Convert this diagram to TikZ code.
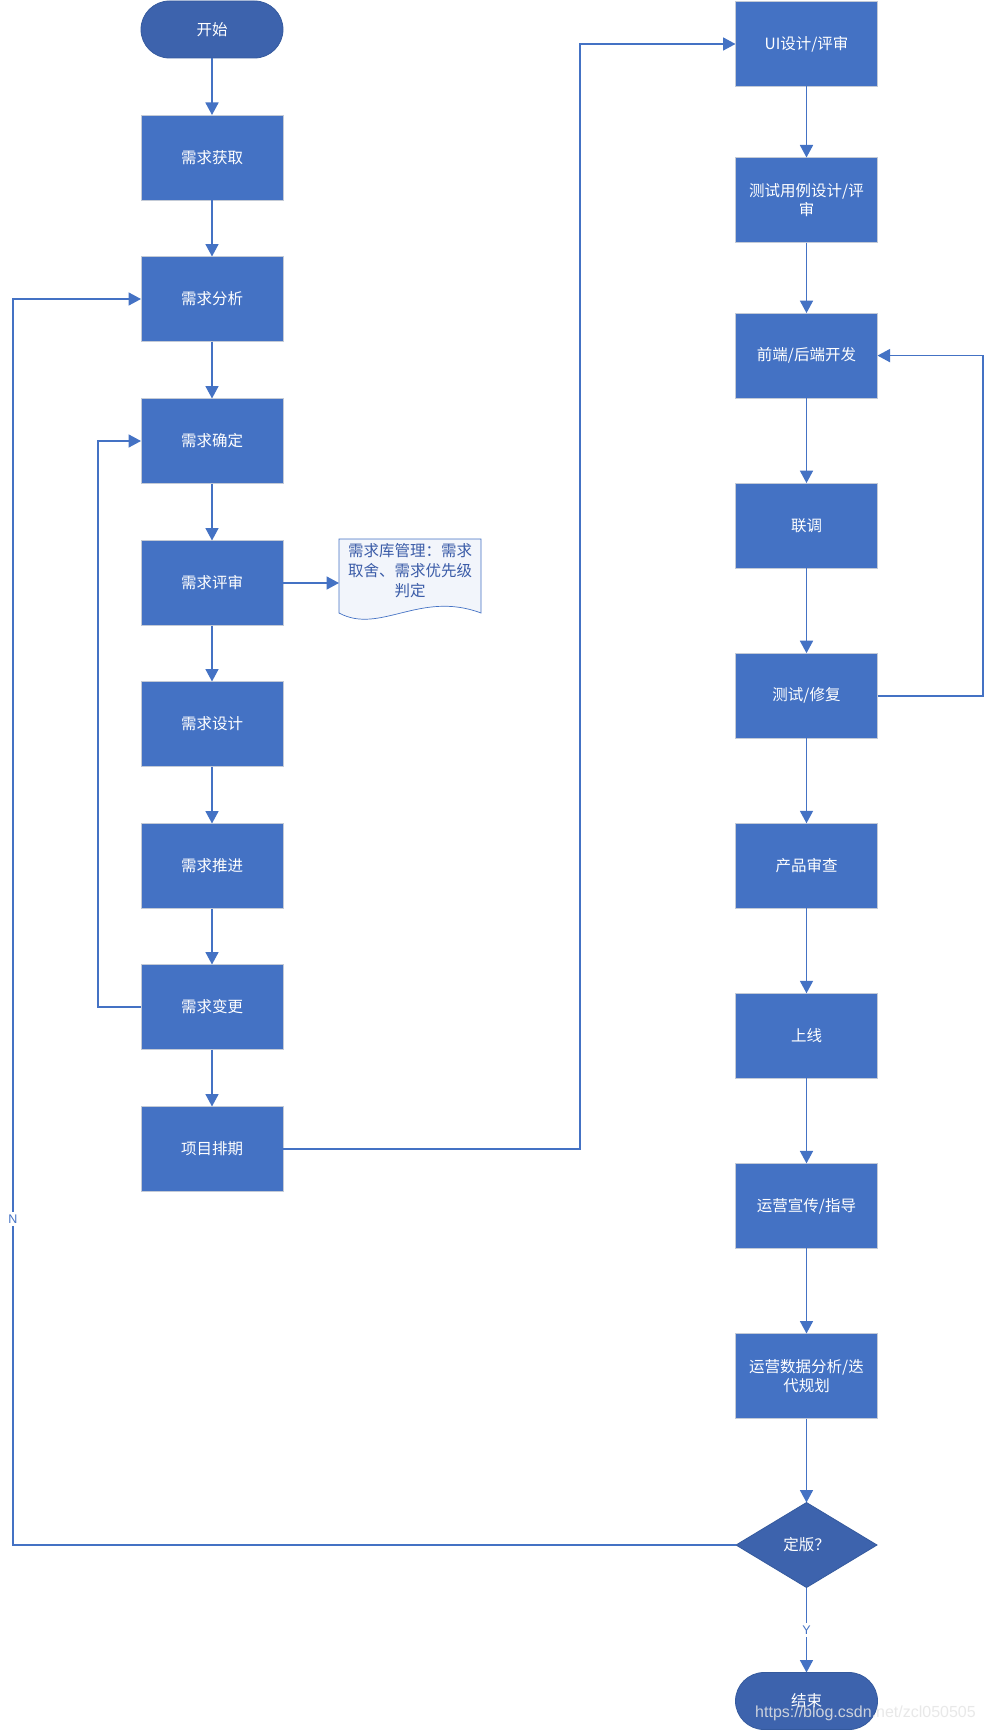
\documentclass[tikz,border=0pt]{standalone}
\usepackage{fontspec}
\setmainfont{Noto Sans CJK SC}
\newfontfamily\latinfont{Liberation Sans}
\usetikzlibrary{arrows.meta,shapes.geometric}
\definecolor{boxblue}{HTML}{4472C4}
\definecolor{darkblue}{HTML}{3D63AD}
\definecolor{darkedge}{HTML}{355A9E}
\definecolor{boxedge}{HTML}{C3CAD6}
\definecolor{linecol}{HTML}{4472C4}
\definecolor{doctext}{HTML}{3B5CA8}
\definecolor{docfill}{HTML}{F2F5FB}
\begin{document}
\begin{tikzpicture}[x=1pt,y=-1pt,
  proc/.style={rectangle, fill=boxblue, draw=boxedge, line width=0.8pt, minimum width=142pt, minimum height=85pt, text=white, font=\fontsize{15.5}{19.5}\selectfont, align=center, inner sep=0pt, outer sep=0pt},
  term/.style={rectangle, rounded corners=28.5pt, fill=darkblue, draw=darkedge, line width=0.8pt, minimum width=142pt, minimum height=57pt, text=white, font=\fontsize{15.5}{19.5}\selectfont, inner sep=0pt, outer sep=0pt},
  dec/.style={diamond, fill=darkblue, draw=darkedge, line width=0.8pt, minimum width=141pt, minimum height=85pt, text=white, font=\fontsize{15.5}{19.5}\selectfont, inner sep=0pt, outer sep=0pt},
  arr/.style={draw=linecol, line width=1.7pt, -{Triangle[width=13pt,length=12.5pt]}},
  lbl/.style={fill=white, text=linecol, font=\latinfont\fontsize{12.5}{14}\selectfont, inner sep=3pt}
]
\fill[white] (0,0) rectangle (985,1731);
\useasboundingbox (0,0) rectangle (985,1731);

% left column
\node[term] (start) at (212,29.5) {开始};
\node[proc] (b1) at (212,157.5) {需求获取};
\node[proc] (b2) at (212,299) {需求分析};
\node[proc] (b3) at (212,441) {需求确定};
\node[proc] (b4) at (212,583) {需求评审};
\node[proc] (b5) at (212,724) {需求设计};
\node[proc] (b6) at (212,866) {需求推进};
\node[proc] (b7) at (212,1007) {需求变更};
\node[proc] (b8) at (212,1149) {项目排期};

% document
\node[minimum width=142pt, minimum height=76pt, inner sep=0pt, outer sep=0pt] (doc) at (410,577) {};
\draw[boxblue, line width=0.7pt, fill=docfill] (339,539) -- (481,539) -- (481,613)
  .. controls (420,590) and (380,635) .. (339,613) -- cycle;
\node[text=doctext, font=\fontsize{15.5}{20}\selectfont, align=center, inner sep=0pt] at (410,571) {需求库管理：需求\\取舍、需求优先级\\判定};

% right column
\node[proc] (r1) at (806.5,44) {UI设计/评审};
\node[proc] (r2) at (806.5,200) {测试用例设计/评\\审};
\node[proc] (r3) at (806.5,355.6) {前端/后端开发};
\node[proc] (r4) at (806.5,525.6) {联调};
\node[proc] (r5) at (806.5,695.7) {测试/修复};
\node[proc] (r6) at (806.5,865.8) {产品审查};
\node[proc] (r7) at (806.5,1035.8) {上线};
\node[proc] (r8) at (806.5,1205.9) {运营宣传/指导};
\node[proc] (r9) at (806.5,1376) {运营数据分析/迭\\代规划};
\node[dec] (dd) at (806.5,1545) {定版？};
\node[term] (end) at (806.5,1701) {结束};

% helper coordinates
\coordinate (lx) at (98,0);
\coordinate (mx) at (580,0);
\coordinate (rx) at (983,0);
\coordinate (nx) at (13,0);

% connectors
\draw[arr] (start) -- (b1);
\draw[arr] (b1) -- (b2);
\draw[arr] (b2) -- (b3);
\draw[arr] (b3) -- (b4);
\draw[arr] (b4) -- (b5);
\draw[arr] (b5) -- (b6);
\draw[arr] (b6) -- (b7);
\draw[arr] (b7) -- (b8);
\draw[arr] (b4.east) -- (b4.east -| doc.west);
\draw[arr] (b7.west) -- (b7.west -| lx) |- (b3.west);
\draw[arr] (b8.east) -- (b8.east -| mx) |- (r1.west);
\draw[arr] (r1) -- (r2);
\draw[arr] (r2) -- (r3);
\draw[arr] (r3) -- (r4);
\draw[arr] (r4) -- (r5);
\draw[arr] (r5) -- (r6);
\draw[arr] (r6) -- (r7);
\draw[arr] (r7) -- (r8);
\draw[arr] (r8) -- (r9);
\draw[arr] (r9) -- (dd);
\draw[arr] (r5.east) -- (r5.east -| rx) |- (r3.east);
\draw[arr] (dd.west) -- (dd.west -| nx) |- (b2.west);
\draw[arr] (dd) -- (end);
\node[lbl] (nlab) at (13,1219) {N};
\node[lbl] (ylab) at (806.5,1630) {Y};

% watermark
\node[anchor=base west, inner sep=0pt, text=white!80!gray, opacity=0.85, font=\latinfont\fontsize{16}{18}\selectfont] (wm) at (755,1717) {https://blog.csdn.net/zcl050505};
\end{tikzpicture}
\end{document}
